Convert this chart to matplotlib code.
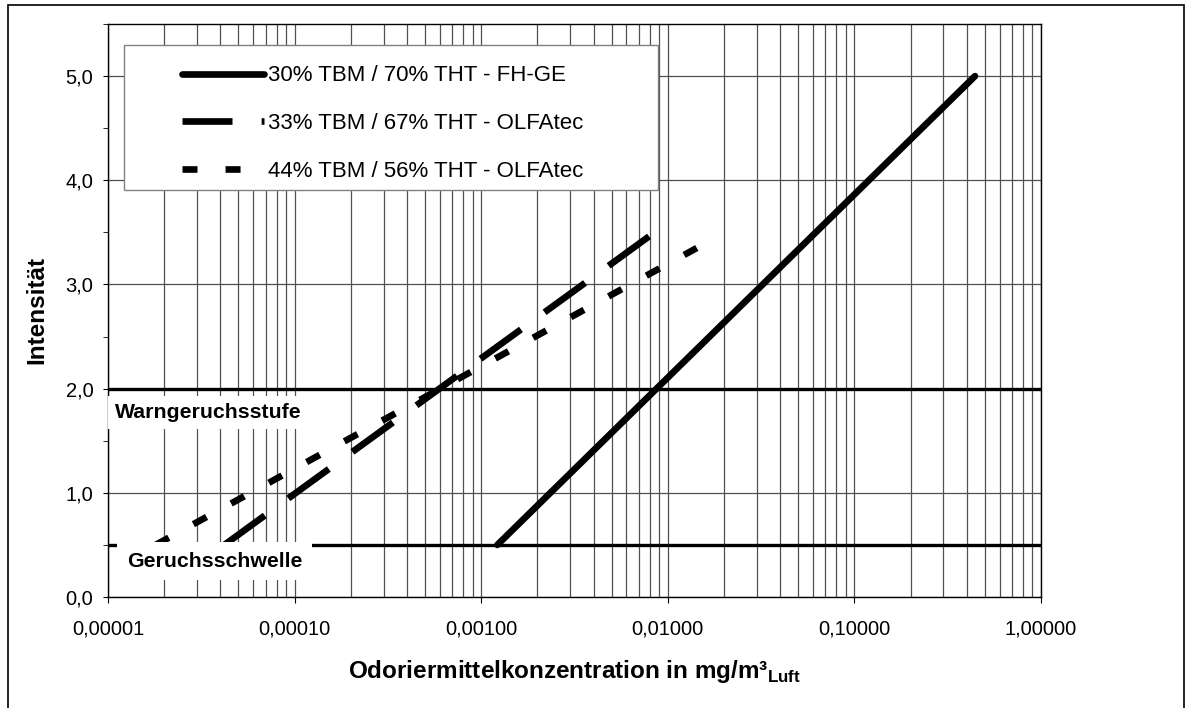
import numpy as np
import matplotlib
matplotlib.use("Agg")
import matplotlib.pyplot as plt
from matplotlib.patches import Rectangle
from matplotlib.ticker import LogLocator, MultipleLocator, FuncFormatter, NullFormatter
from matplotlib.transforms import blended_transform_factory

plt.rcParams['font.family'] = ['Liberation Sans', 'DejaVu Sans']
plt.rcParams['mathtext.fontset'] = 'custom'
plt.rcParams['mathtext.rm'] = 'Liberation Sans:bold'
plt.rcParams['lines.scale_dashes'] = False

# Daten
labels = ['30% TBM / 70% THT - FH-GE',
          '33% TBM / 67% THT - OLFAtec',
          '44% TBM / 56% THT - OLFAtec']
x_fhge = [0.00122, 0.443]
y_fhge = [0.5, 5.0]
x_olfa33 = [0.000042, 0.0085]
y_olfa33 = [0.5, 3.5]
x_olfa44 = [0.000018, 0.0143]
y_olfa44 = [0.5, 3.35]

warn_level = 2.0
threshold_level = 0.5

fig = plt.figure(figsize=(11.92, 7.08), dpi=100)
ax = fig.add_axes([108 / 1192, 1 - 597 / 708, 933 / 1192, 573 / 708])

# Rahmen um die ganze Grafik
fig.patches.append(Rectangle((8 / 1192, -0.05), 1176 / 1192, 1.05 - 5 / 708,
                             transform=fig.transFigure, fill=False,
                             ec='black', lw=1.2))

ax.set_xscale('log')
ax.set_xlim(1e-5, 1.0)
ax.set_ylim(0, 5.5)

ax.xaxis.set_major_locator(LogLocator(base=10, numticks=10))
ax.xaxis.set_minor_locator(LogLocator(base=10, subs=np.arange(2, 10), numticks=20))
ax.xaxis.set_major_formatter(FuncFormatter(lambda v, p: f'{v:.5f}'.replace('.', ',')))
ax.xaxis.set_minor_formatter(NullFormatter())
ax.yaxis.set_major_locator(MultipleLocator(1.0))
ax.yaxis.set_minor_locator(MultipleLocator(0.5))
ax.yaxis.set_major_formatter(FuncFormatter(lambda v, p: f'{v:.1f}'.replace('.', ',')))

ax.grid(True, axis='x', which='both', color='#505050', lw=0.9, zorder=0)
ax.grid(True, axis='y', which='major', color='#505050', lw=0.9, zorder=0)
ax.set_axisbelow(True)

ax.tick_params(axis='x', which='major', direction='out', length=4.5, pad=12,
               labelsize=14.5, color='black')
ax.tick_params(axis='x', which='minor', length=0)
ax.tick_params(axis='y', which='both', direction='out', length=3.6, pad=7,
               labelsize=14.5, color='black')
for s in ax.spines.values():
    s.set_color('black')
    s.set_linewidth(1.0)

# Schwellenlinien
ax.axhline(warn_level, color='black', lw=2.4, zorder=2)
ax.axhline(threshold_level, color='black', lw=2.4, zorder=2)

l1, = ax.plot(x_fhge, y_fhge, color='black', lw=4.8, solid_capstyle='round', zorder=3)
l2, = ax.plot(x_olfa33, y_olfa33, color='black', lw=4.8,
              linestyle=(0, (36, 21)), dash_capstyle='butt', zorder=3)
l3, = ax.plot(x_olfa44, y_olfa44, color='black', lw=4.8,
              linestyle=(0, (10.8, 20.2)), dash_capstyle='butt', zorder=3)

trans = blended_transform_factory(ax.transAxes, ax.transData)
ax.text(0.0075, 1.72, 'Warngeruchsstufe', transform=trans, fontsize=15.3,
        fontweight='bold', ha='left', va='baseline', zorder=4,
        bbox=dict(boxstyle='square,pad=0.33', fc='white', ec='none'))
ax.text(0.0204, 0.29, 'Geruchsschwelle', transform=trans, fontsize=15.3,
        fontweight='bold', ha='left', va='baseline', zorder=4,
        bbox=dict(boxstyle='square,pad=0.45', fc='white', ec='none'))

ax.set_xlabel('Odoriermittelkonzentration in mg/m³$_{\\mathrm{Luft}}$',
              fontsize=17.5, fontweight='bold', labelpad=14)
ax.set_ylabel('Intensität', fontsize=17.5, fontweight='bold', labelpad=12)

# Legende
ax.add_patch(Rectangle((16 / 933, 1 - 145 / 573 - 21 / 573), 534 / 933, 145 / 573,
                       transform=ax.transAxes, fc='white', ec='#808080',
                       lw=1.0, zorder=5))
leg = ax.legend([l1, l2, l3], labels, loc='center left',
                bbox_to_anchor=(74 / 933, (597 - 123.5) / 573),
                borderaxespad=0, borderpad=0, frameon=False, fontsize=16,
                handlelength=3.7, handletextpad=0.15, labelspacing=1.2)
leg.set_zorder(6)

fig.savefig('out.png', dpi=100)
